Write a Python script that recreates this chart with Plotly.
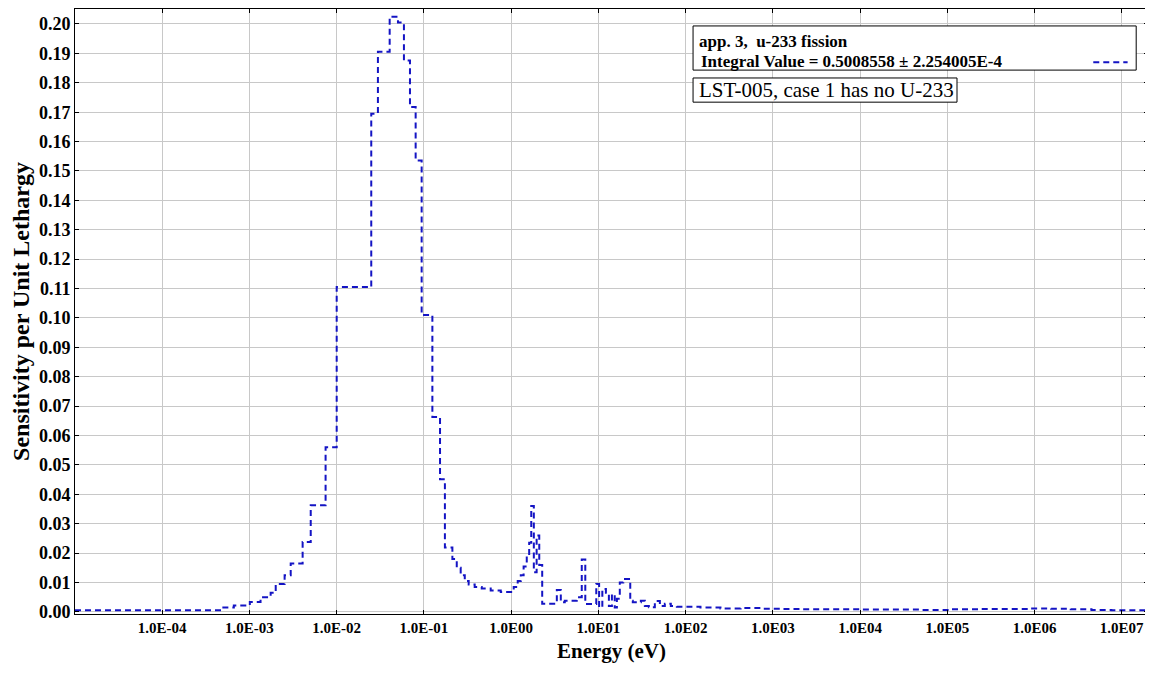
import plotly.graph_objects as go

# group lower bounds (eV) and sensitivity per unit lethargy
energy_bounds = [1.0e-5, 4.88e-4, 6.62e-4, 1.01e-3, 1.34e-3, 1.75e-3, 2.0e-3, 2.53e-3, 2.97e-3,
                 4.07e-3, 5.04e-3, 7.46e-3, 1.0e-2, 0.0249, 0.0297, 0.0405, 0.0504, 0.059,
                 0.0692, 0.0804, 0.0942, 0.125, 0.153, 0.174, 0.212, 0.238, 0.264, 0.294,
                 0.326, 0.382, 0.460, 0.583, 0.760, 0.937,
                 1.0, 1.07, 1.19, 1.29, 1.39, 1.51, 1.61, 1.70, 1.82, 1.96, 2.10, 2.27,
                 3.34, 3.71, 4.12, 5.65, 6.45, 7.08, 9.46, 10.2, 11.1, 12.2, 13.2, 14.3,
                 15.4, 16.3, 17.6, 19.3, 23.2, 24.8, 30.7, 34.1, 37.9, 44.4, 50.7, 57.8,
                 67.7, 79.4,
                 100, 148, 251, 427, 724, 1230, 2090, 4680, 1.02e4, 2.29e4, 5.0e4, 1.1e5,
                 2.45e5, 5.4e5, 9.1e5, 1.55e6, 2.6e6, 4.5e6, 7.6e6, 1.3e7]
e_max = 2.0e7

sensitivity = [0.0006, 0.0015, 0.0022, 0.0034, 0.0050, 0.0065, 0.0095, 0.0125, 0.0165,
               0.0238, 0.0363, 0.0560, 0.1105, 0.1695, 0.1906, 0.2025, 0.2005, 0.1876,
               0.1718, 0.1536, 0.1010, 0.0663, 0.0451, 0.0219, 0.0180, 0.0150, 0.0125, 0.0105,
               0.0093, 0.0085, 0.0080, 0.0073, 0.0068, 0.0068,
               0.0072, 0.0085, 0.0105, 0.0125, 0.0155, 0.0190, 0.0235, 0.0360, 0.0135, 0.0260,
               0.0160, 0.0028,
               0.0075, 0.0033, 0.0038, 0.0050, 0.0178, 0.0027, 0.0095, 0.0016, 0.0078, 0.0065,
               0.0020, 0.0060, 0.0015, 0.0045, 0.0100, 0.0112, 0.0038, 0.0033, 0.0038, 0.0020,
               0.0016, 0.0037, 0.0020, 0.0028, 0.0020, 0.0018,
               0.0018, 0.0015, 0.0012, 0.0013, 0.0011, 0.0010, 0.0009, 0.0009, 0.0008, 0.0008,
               0.0007, 0.0009, 0.0010, 0.0010, 0.0012, 0.0011, 0.0009, 0.0007, 0.0006, 0.0006]

x_ticks = [1e-4, 1e-3, 1e-2, 1e-1, 1e0, 1e1, 1e2, 1e3, 1e4, 1e5, 1e6, 1e7]
x_labels = ['1.0E-04', '1.0E-03', '1.0E-02', '1.0E-01', '1.0E00', '1.0E01', '1.0E02',
            '1.0E03', '1.0E04', '1.0E05', '1.0E06', '1.0E07']
y_ticks = [i / 100 for i in range(21)]

legend_title = 'app. 3,  u-233 fission'
legend_value = 'Integral Value = 0.5008558 ± 2.254005E-4'
note_text = 'LST-005, case 1 has no U-233'

LINE_COLOR = '#1414c4'
FONT = 'Liberation Serif'

fig = go.Figure()
fig.add_trace(go.Scatter(x=energy_bounds + [e_max],
                         y=sensitivity + [sensitivity[-1]],
                         mode='lines',
                         line=dict(color=LINE_COLOR, width=2, dash='6px,4px', shape='hv'),
                         showlegend=False))

axis_common = dict(showline=True, linecolor='black', linewidth=1, mirror='ticks',
                   ticks='inside', ticklen=4, tickcolor='black', automargin=False,
                   showgrid=True, gridcolor='#c8c8c8', gridwidth=1, zeroline=False)

fig.update_xaxes(type='log', range=[-5, 7.301], tickvals=x_ticks, ticktext=x_labels,
                 tickfont=dict(family=FONT, size=15, color='black', weight='bold'),
                 title=dict(text='<b>Energy (eV)</b>', font=dict(family=FONT, size=21, color='black'),
                            standoff=8),
                 **axis_common)
fig.update_yaxes(range=[-0.0007, 0.2051], tickvals=y_ticks, tickformat='.2f',
                 tickfont=dict(family=FONT, size=18, color='black', weight='bold'),
                 title=dict(text='<b>Sensitivity per Unit Lethargy</b>',
                            font=dict(family=FONT, size=24, color='black'), standoff=6),
                 **axis_common)

# legend box built by hand so the sample line sits right of the text
fig.add_shape(type='rect', xref='paper', yref='paper', x0=0.576, x1=0.989, y0=0.899, y1=0.972,
              line=dict(color='black', width=1), fillcolor='white')
fig.add_annotation(xref='paper', yref='paper', x=0.5795, y=0.947, xanchor='left', yanchor='middle',
                   text='<b>' + legend_title + '</b>', showarrow=False,
                   font=dict(family=FONT, size=17, color='black'))
fig.add_annotation(xref='paper', yref='paper', x=0.5815, y=0.914, xanchor='left', yanchor='middle',
                   text='<b>' + legend_value + '</b>', showarrow=False,
                   font=dict(family=FONT, size=17, color='black'))
fig.add_shape(type='line', xref='paper', yref='paper', x0=0.949, x1=0.981, y0=0.912, y1=0.912,
              line=dict(color=LINE_COLOR, width=2, dash='6px,4px'))

fig.add_shape(type='rect', xref='paper', yref='paper', x0=0.576, x1=0.822, y0=0.846, y1=0.886,
              line=dict(color='black', width=1), fillcolor='white')
fig.add_annotation(xref='paper', yref='paper', x=0.5795, y=0.866, xanchor='left', yanchor='middle',
                   text=note_text, showarrow=False,
                   font=dict(family=FONT, size=21, color='black'))

# page body has an 8px margin, so the figure is sized to sit inside the window
fig.update_layout(width=1145, height=673,
                  margin=dict(l=67, r=5, t=1, b=67),
                  paper_bgcolor='white', plot_bgcolor='white',
                  font=dict(family=FONT, color='black'))

fig.write_html('out.html')
